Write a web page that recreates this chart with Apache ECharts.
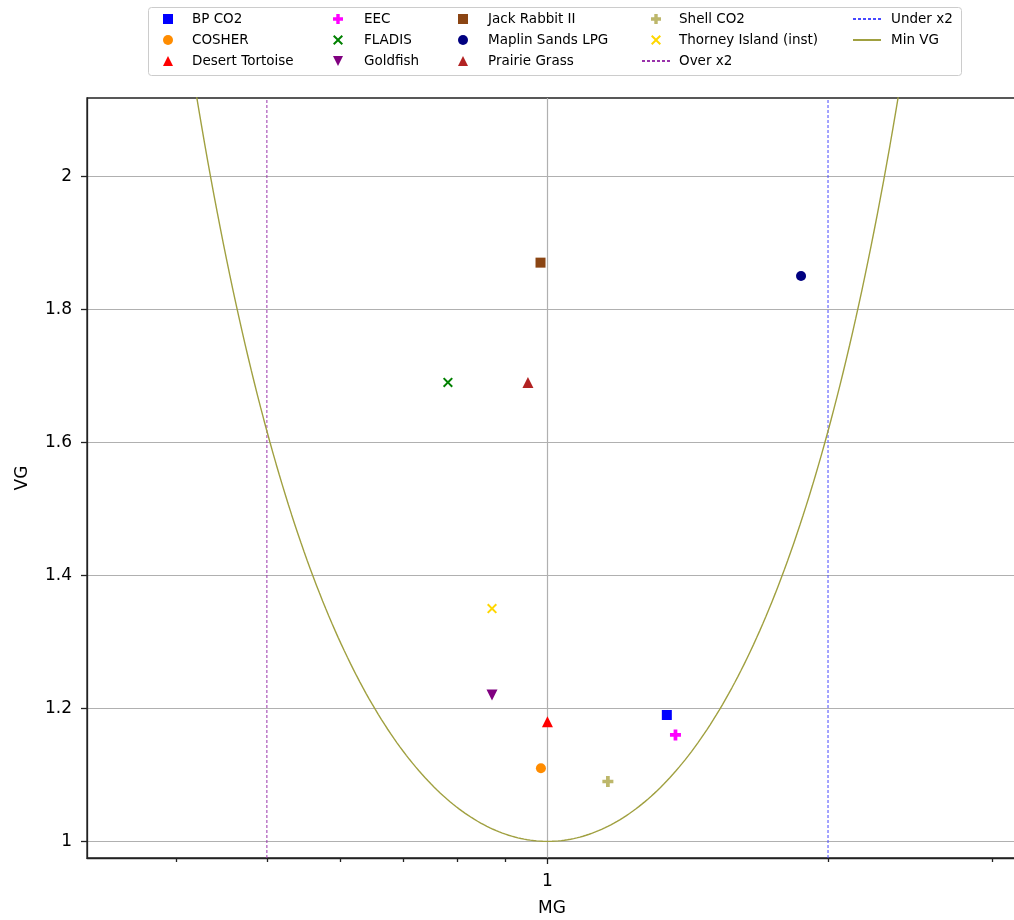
<!DOCTYPE html>
<html><head><meta charset="utf-8">
<script src="https://cdn.jsdelivr.net/npm/echarts@6/dist/echarts.min.js"></script>
<style>html,body{margin:0;padding:0;background:#fff}#c{width:1014px;height:920px}</style>
</head><body><div id="c"></div>
<script>
// ---------- data ----------
const seriesNames = ['BP CO2','COSHER','Desert Tortoise','EEC','FLADIS','Goldfish','Jack Rabbit II','Maplin Sands LPG','Prairie Grass','Shell CO2','Thorney Island (inst)'];
const mgValues = [1.343, 0.984, 1.0, 1.372, 0.782, 0.872, 0.983, 1.871, 0.953, 1.161, 0.872];
const vgValues = [1.19, 1.11, 1.18, 1.16, 1.69, 1.22, 1.87, 1.85, 1.69, 1.09, 1.35];
const lineNames = ['Over x2','Under x2','Min VG'];
const overMG = 0.5;
const underMG = 2;
const xMajorTicks = [1];
const xMinorTicks = [0.4,0.5,0.6,0.7,0.8,0.9,2,3];
const yTicks = [1,1.2,1.4,1.6,1.8,2];

// ---------- styles ----------
const markerColors = ['#0000ff','#ff8c00','#ff0000','#ff00ff','#008000','#800080','#8b4513','#000080','#b22222','#bdb76b','#ffd700'];
const SQUARE = 'path://M0,0H10V10H0Z';
const TRI_UP = 'path://M5,0L10,10H0Z';
const TRI_DOWN = 'path://M0,0H10L5,10Z';
const PLUS = 'path://M3.3,0H6.7V3.3H10V6.7H6.7V10H3.3V6.7H0V3.3H3.3Z';
const XMARK = 'path://M0,1.4L1.4,0L5,3.6L8.6,0L10,1.4L6.4,5L10,8.6L8.6,10L5,6.4L1.4,10L0,8.6L3.6,5Z';
const markerShapes = [SQUARE,'circle',TRI_UP,PLUS,XMARK,TRI_DOWN,SQUARE,'circle',TRI_UP,PLUS,XMARK];
const markerSizes = [10,10,11,11,10,11,10,10,11,11,10];
const lineColors = { 'Over x2': '#9933aa', 'Under x2': '#4848ff', 'Min VG': '#a0a040' };
const FONT = 'DejaVu Sans';

const xMin = 0.3206, xMax = 3.19;
const yMin = 0.975, yMax = 2.1175;

// Min VG theoretical curve: VG = exp((ln MG)^2)
const minVG = [];
const N = 300;
for (let i = 0; i <= N; i++) {
  const lx = Math.log(xMin) + (Math.log(xMax) - Math.log(xMin)) * i / N;
  minVG.push([Math.exp(lx), Math.exp(lx * lx)]);
}

const series = seriesNames.map((n, i) => ({
  name: n, type: 'scatter', xAxisIndex: 0, yAxisIndex: 0,
  data: [[mgValues[i], vgValues[i]]],
  symbol: markerShapes[i], symbolSize: markerSizes[i],
  symbolKeepAspect: true,
  itemStyle: { color: markerColors[i], opacity: 1 },
  z: 3
}));
series.push({
  name: 'Over x2', type: 'line', symbol: 'none', data: [[overMG, yMin], [overMG, yMax]],
  itemStyle: { color: lineColors['Over x2'] },
  lineStyle: { color: lineColors['Over x2'], width: 1, type: [3, 2] }, z: 2
});
series.push({
  name: 'Under x2', type: 'line', symbol: 'none', data: [[underMG, yMin], [underMG, yMax]],
  itemStyle: { color: lineColors['Under x2'] },
  lineStyle: { color: lineColors['Under x2'], width: 1, type: [3, 2] }, z: 2
});
series.push({
  name: 'Min VG', type: 'line', symbol: 'none', data: minVG, clip: true,
  itemStyle: { color: lineColors['Min VG'] },
  lineStyle: { color: lineColors['Min VG'], width: 1.4 }, z: 2
});

const lineItem = n => ({ name: n, itemStyle: { opacity: 0 } });
const legendCols = [
  { data: seriesNames.slice(0, 3), left: 163, pad: 5 },
  { data: seriesNames.slice(3, 6), left: 333, pad: 7 },
  { data: seriesNames.slice(6, 9), left: 458, pad: 6 },
  { data: [seriesNames[9], seriesNames[10], lineItem('Over x2')], left: 641, pad: 4 },
  { data: [lineItem('Under x2'), lineItem('Min VG')], left: 852, pad: 5 }
];
const legends = legendCols.map(c => ({
  orient: 'vertical', left: c.left, top: 12, padding: 0,
  itemWidth: 28, itemHeight: 10, itemGap: 7, selectedMode: false,
  symbolKeepAspect: true,
  data: c.data,
  textStyle: { fontFamily: FONT, fontSize: 13.5, color: '#000', lineHeight: 14, padding: [0, 0, 0, c.pad] }
}));

const axisLineStyle = { color: '#222', width: 1.3 };
const option = {
  animation: false,
  backgroundColor: '#fff',
  grid: { left: 87, width: 930, top: 98, bottom: 62, outerBoundsMode: 'none', show: true, borderColor: '#222', borderWidth: 1.3, backgroundColor: 'transparent' },
  graphic: [{
    type: 'rect', left: 148, top: 7, z: -10,
    shape: { width: 813, height: 68, r: 3 },
    style: { fill: '#fff', stroke: '#cccccc', lineWidth: 1 }
  }],
  legend: legends,
  xAxis: [{
    type: 'log', logBase: 10, min: xMin, max: xMax, position: 'bottom',
    name: 'MG', nameLocation: 'middle', nameGap: 42,
    nameTextStyle: { fontFamily: FONT, fontSize: 17, color: '#000' },
    axisLine: { show: true, lineStyle: axisLineStyle },
    axisTick: { show: true, customValues: xMajorTicks, length: 6, lineStyle: axisLineStyle },
    axisLabel: { show: true, customValues: xMajorTicks, formatter: v => String(+(+v).toFixed(3)), fontFamily: FONT, fontSize: 17, color: '#000', margin: 15 },
    splitLine: { show: true, lineStyle: { color: '#b0b0b0', width: 1.2 } },
    minorTick: { show: false }, minorSplitLine: { show: false }
  }, {
    type: 'log', logBase: 10, min: xMin, max: xMax, position: 'bottom',
    axisLine: { show: false },
    axisTick: { show: true, customValues: xMinorTicks, length: 4, lineStyle: axisLineStyle },
    axisLabel: { show: false },
    splitLine: { show: false }
  }],
  yAxis: [{
    type: 'value', min: yMin, max: yMax,
    name: 'VG', nameLocation: 'middle', nameGap: 56,
    nameTextStyle: { fontFamily: FONT, fontSize: 17, color: '#000' },
    axisLine: { show: true, lineStyle: axisLineStyle },
    axisTick: { show: true, customValues: yTicks, length: 6, lineStyle: axisLineStyle },
    axisLabel: { show: true, customValues: yTicks, formatter: v => String(+(+v).toFixed(2)), fontFamily: FONT, fontSize: 17, color: '#000', margin: 15 },
    splitLine: { show: true, lineStyle: { color: '#b0b0b0', width: 1.2 } }
  }],
  series: series
};
const chart = echarts.init(document.getElementById('c'), null, { renderer: 'canvas' });
chart.setOption(option);
</script></body></html>
